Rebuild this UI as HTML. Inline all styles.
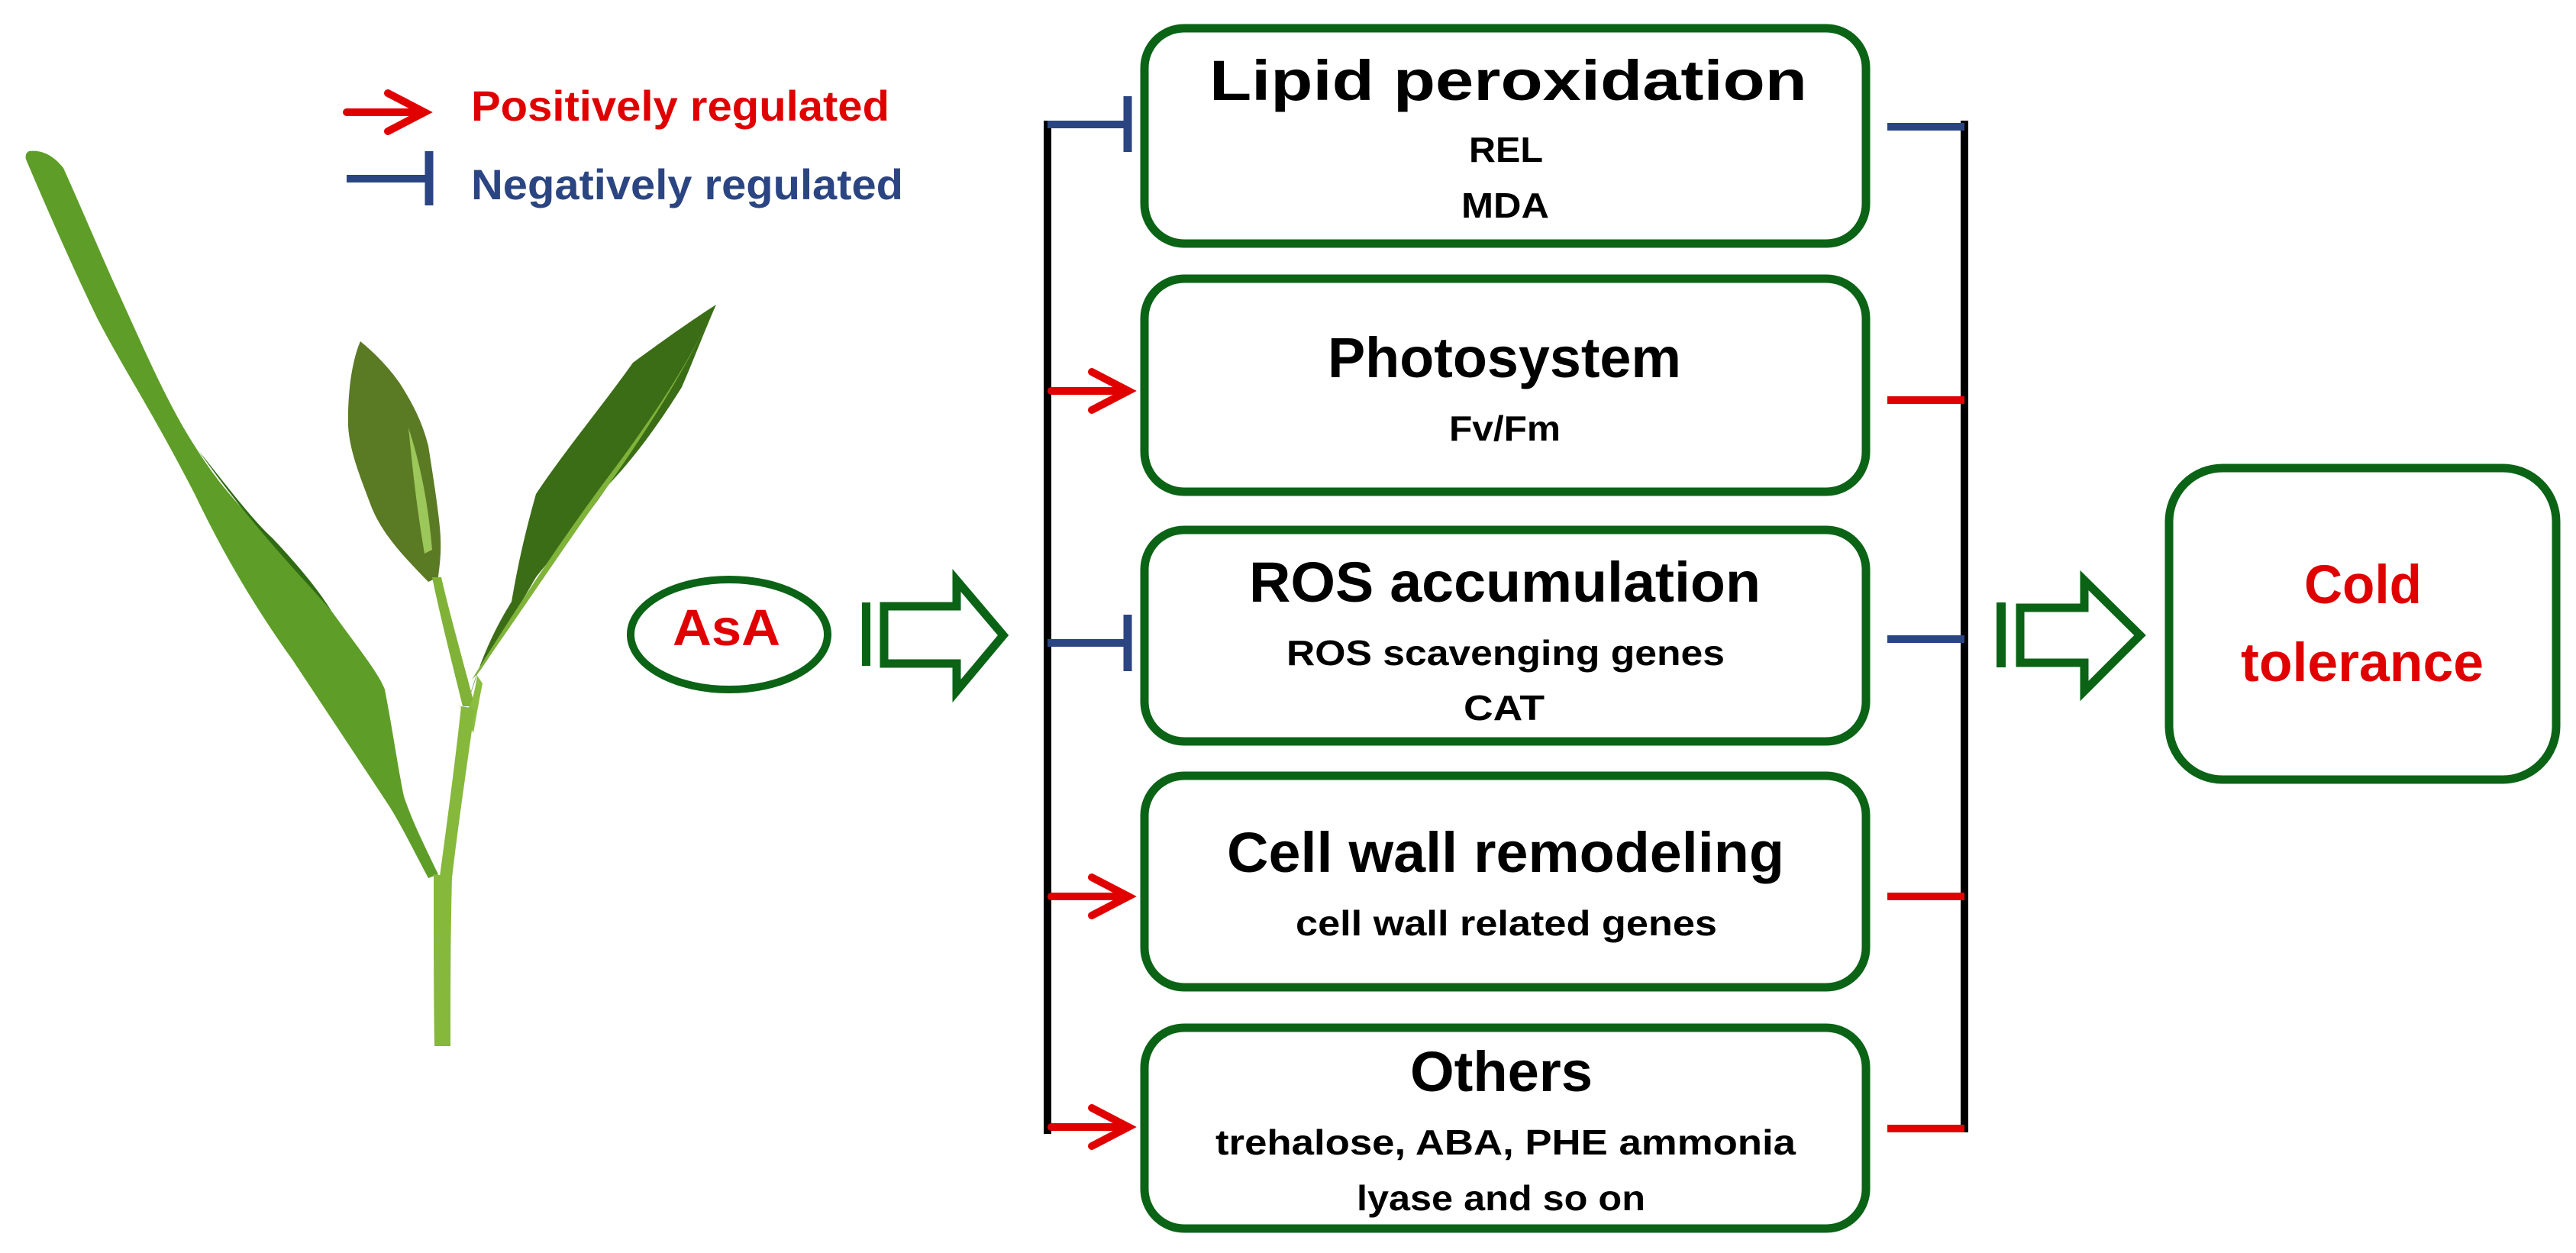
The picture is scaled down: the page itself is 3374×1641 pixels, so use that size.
<!DOCTYPE html>
<html><head><meta charset="utf-8"><style>
html,body{margin:0;padding:0;background:#fff}
svg{display:block}
text{font-family:"Liberation Sans",Arial,sans-serif;font-weight:bold}
</style></head><body>
<svg width="3374" height="1641" viewBox="0 0 3374 1641" xmlns="http://www.w3.org/2000/svg">
<!-- plant -->
<g>
<path d="M38,198 C60,195 75,210 83,220 C110,280 135,340 159,392 C190,460 220,530 255,584 C290,640 320,670 357,705 C390,740 415,770 434,800 C470,850 495,880 504,903 C515,960 522,1010 529,1043 C540,1075 550,1095 574,1145 L561,1150 C540,1110 525,1080 510,1056 C460,980 420,920 383,864 C330,790 290,720 255,647 C200,540 160,480 128,418 C95,350 60,270 35,211 C32,205 34,200 38,198 Z" fill="#5e9e28"/>
<path d="M260,590 C300,640 330,680 357,705 C390,740 415,770 434,800 C400,760 330,690 260,590 Z" fill="#2f6a14"/>
<path d="M472,447 C500,470 515,490 523,501 C545,535 555,560 561,584 C570,640 577,690 577,705 C578,730 575,745 574,756 L561,762 C530,730 500,700 485,660 C470,620 458,590 456,558 C455,510 462,470 472,447 Z" fill="#5b7a24"/>
<path d="M535,560 C548,600 560,650 566,720 L556,725 C545,660 540,610 535,560 Z" fill="#9cc75a"/>
<path d="M938,399 C920,440 905,480 893,507 C860,560 830,600 797,635 C760,690 730,720 702,756 C670,810 650,850 625,883 L612,922 C630,860 650,820 670,788 C680,730 690,690 702,647 C740,590 790,530 829,475 C870,445 905,420 938,399 Z" fill="#3b6d17"/>
<path d="M938,399 C900,480 850,560 797,635 C750,700 690,790 625,883 L618,890 C680,790 740,700 800,620 C860,540 905,470 938,399 Z" fill="#7fb33a"/>
<path d="M566,756 C575,800 590,860 606,925 L622,925 C605,860 588,800 578,756 Z" fill="#7fb236"/>
<path d="M600,920 C610,940 618,930 625,885 L632,895 C625,930 622,950 620,960 Z" fill="#8abd40"/>
<path d="M604,925 L622,928 C612,1000 600,1080 592,1150 L576,1148 C585,1080 596,1000 604,925 Z" fill="#86b83c"/>
<path d="M568,1145 L592,1148 C590,1230 590,1300 590,1370 L569,1370 C568,1300 568,1230 568,1145 Z" fill="#86b83c"/>
</g>
<!-- legend -->
<g stroke-linecap="round">
<line x1="454" y1="147" x2="553" y2="147" stroke="#e00000" stroke-width="10"/>
<polyline points="508,122 556,147 508,172" fill="none" stroke="#e00000" stroke-width="10" stroke-linejoin="miter"/>
</g>
<text x="617" y="158" font-size="56" fill="#e00000" textLength="548" lengthAdjust="spacingAndGlyphs">Positively regulated</text>
<line x1="454" y1="234" x2="562" y2="234" stroke="#2b4582" stroke-width="10"/>
<line x1="562" y1="198" x2="562" y2="269" stroke="#2b4582" stroke-width="11"/>
<text x="617" y="261" font-size="56" fill="#2b4582" textLength="566" lengthAdjust="spacingAndGlyphs">Negatively regulated</text>
<!-- AsA -->
<ellipse cx="955" cy="831" rx="129" ry="72" fill="none" stroke="#0b6316" stroke-width="10"/>
<text x="881" y="845" font-size="67" fill="#e00000" textLength="141" lengthAdjust="spacingAndGlyphs">AsA</text>
<rect x="1129" y="789" width="11" height="83" fill="#0b6316"/>
<polygon points="1158,794 1253,794 1253,760 1314,832 1253,905 1253,869 1158,869" fill="none" stroke="#0b6316" stroke-width="11"/>
<!-- left bracket -->
<line x1="1372" y1="158" x2="1372" y2="1485" stroke="#000" stroke-width="10"/>
<g stroke="#2b4582" stroke-width="10">
<line x1="1372" y1="163" x2="1477" y2="163"/>
<line x1="1372" y1="842" x2="1477" y2="842"/>
</g>
<g stroke="#2b4582" stroke-width="11">
<line x1="1477" y1="126" x2="1477" y2="199"/>
<line x1="1477" y1="805" x2="1477" y2="879"/>
</g>
<g stroke="#e00000" stroke-width="10" fill="none" stroke-linecap="round">
<line x1="1377" y1="512" x2="1476" y2="512"/>
<polyline points="1430,487 1478,512 1430,537"/>
<line x1="1377" y1="1174" x2="1476" y2="1174"/>
<polyline points="1430,1149 1478,1174 1430,1199"/>
<line x1="1377" y1="1476" x2="1476" y2="1476"/>
<polyline points="1430,1451 1478,1476 1430,1501"/>
</g>
<!-- boxes -->
<g fill="#fff" stroke="#0b6316" stroke-width="11">
<rect x="1499" y="37" width="945" height="282" rx="52"/>
<rect x="1499" y="365" width="945" height="279" rx="52"/>
<rect x="1499" y="694" width="945" height="277" rx="52"/>
<rect x="1499" y="1016" width="945" height="277" rx="52"/>
<rect x="1499" y="1346" width="945" height="263" rx="52"/>
<rect x="2841" y="613" width="507" height="408" rx="70"/>
</g>
<g fill="#000">
<text x="1584" y="131" font-size="74" textLength="783" lengthAdjust="spacingAndGlyphs">Lipid peroxidation</text>
<text x="1924" y="212" font-size="46" textLength="97" lengthAdjust="spacingAndGlyphs">REL</text>
<text x="1914" y="285" font-size="46" textLength="115" lengthAdjust="spacingAndGlyphs">MDA</text>
<text x="1739" y="494" font-size="74" textLength="463" lengthAdjust="spacingAndGlyphs">Photosystem</text>
<text x="1898" y="577" font-size="46" textLength="146" lengthAdjust="spacingAndGlyphs">Fv/Fm</text>
<text x="1636" y="788" font-size="74" textLength="670" lengthAdjust="spacingAndGlyphs">ROS accumulation</text>
<text x="1685" y="871" font-size="46" textLength="574" lengthAdjust="spacingAndGlyphs">ROS scavenging genes</text>
<text x="1917" y="943" font-size="46" textLength="106" lengthAdjust="spacingAndGlyphs">CAT</text>
<text x="1607" y="1142" font-size="74" textLength="730" lengthAdjust="spacingAndGlyphs">Cell wall remodeling</text>
<text x="1697" y="1225" font-size="46" textLength="552" lengthAdjust="spacingAndGlyphs">cell wall related genes</text>
<text x="1847" y="1429" font-size="74" textLength="239" lengthAdjust="spacingAndGlyphs">Others</text>
<text x="1592" y="1512" font-size="46" textLength="760" lengthAdjust="spacingAndGlyphs">trehalose, ABA, PHE ammonia</text>
<text x="1777" y="1585" font-size="46" textLength="378" lengthAdjust="spacingAndGlyphs">lyase and so on</text>
</g>
<!-- right bracket -->
<line x1="2573" y1="158" x2="2573" y2="1483" stroke="#000" stroke-width="10"/>
<g stroke-width="10">
<line x1="2472" y1="166" x2="2573" y2="166" stroke="#2b4582"/>
<line x1="2472" y1="524" x2="2573" y2="524" stroke="#e00000"/>
<line x1="2472" y1="837" x2="2573" y2="837" stroke="#2b4582"/>
<line x1="2472" y1="1174" x2="2573" y2="1174" stroke="#e00000"/>
<line x1="2472" y1="1478" x2="2573" y2="1478" stroke="#e00000"/>
</g>
<rect x="2615" y="789" width="12" height="85" fill="#0b6316"/>
<polygon points="2646,796 2730,796 2730,760 2803,832 2730,905 2730,868 2646,868" fill="none" stroke="#0b6316" stroke-width="11"/>
<text x="3018" y="790" font-size="71" fill="#e00000" textLength="154" lengthAdjust="spacingAndGlyphs">Cold</text>
<text x="2935" y="892" font-size="71" fill="#e00000" textLength="318" lengthAdjust="spacingAndGlyphs">tolerance</text>
</svg>
</body></html>
